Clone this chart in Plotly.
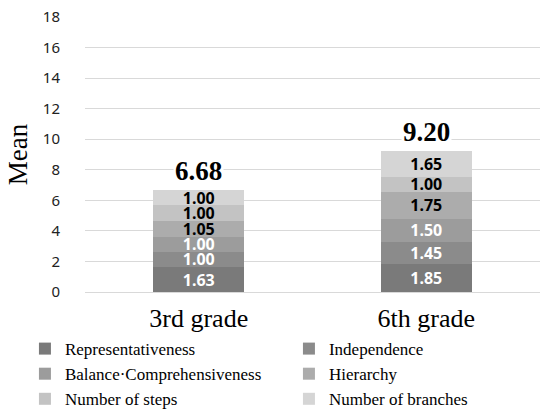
import plotly.graph_objects as go

grades = ["3rd grade", "6th grade"]
series_names = [
    "Representativeness",
    "Independence",
    "Balance·Comprehensiveness",
    "Hierarchy",
    "Number of steps",
    "Number of branches",
]
representativeness = [1.63, 1.85]
independence = [1.00, 1.45]
balance = [1.00, 1.50]
hierarchy = [1.05, 1.75]
steps = [1.00, 1.00]
branches = [1.00, 1.65]
totals = [6.68, 9.20]

series_values = [representativeness, independence, balance, hierarchy, steps, branches]
colors = ["#7a7a7a", "#8b8b8b", "#9c9c9c", "#acacac", "#c3c3c3", "#d5d5d5"]
label_colors = ["white", "white", "white", "black", "black", "black"]

fig = go.Figure()
for name, vals, col, tcol in zip(series_names, series_values, colors, label_colors):
    fig.add_trace(go.Bar(
        x=grades, y=vals, name=name,
        marker=dict(color=col, line=dict(width=0)),
        width=0.4,
        text=[f"{v:.2f}" for v in vals],
        textposition="inside",
        insidetextanchor="middle",
        constraintext="none",
        textfont=dict(family="Noto Sans", size=16, color=tcol, weight="bold"),
        hoverinfo="skip",
    ))

for g, t in zip(grades, totals):
    fig.add_annotation(
        x=g, y=t, text=f"<b>{t:.2f}</b>", showarrow=False,
        yanchor="bottom", yshift=2,
        font=dict(family="Liberation Serif", size=27, color="black"),
        bgcolor="white",
    )

fig.update_layout(
    width=542, height=409,
    margin=dict(l=85, r=2, t=17, b=117, autoexpand=False),
    barmode="stack",
    plot_bgcolor="white", paper_bgcolor="white",
    showlegend=True,
    legend=dict(
        orientation="h",
        x=-0.132, y=-0.142, xanchor="left", yanchor="top",
        entrywidth=219, entrywidthmode="pixels",
        bgcolor="rgba(0,0,0,0)",
        font=dict(family="Liberation Serif", size=17, color="black"),
        traceorder="normal",
        itemclick=False,
    ),
    xaxis=dict(
        tickfont=dict(family="Liberation Serif", size=26, color="black"),
        showgrid=False, showline=False, ticks="",
        ticklabelstandoff=8,
    ),
    yaxis=dict(
        range=[0, 18], dtick=2,
        showgrid=True, gridcolor="#d9d9d9", gridwidth=1,
        zeroline=True, zerolinecolor="#d9d9d9", zerolinewidth=1,
        showline=False, ticks="",
        tickfont=dict(family="Noto Sans", size=15, color="#222222"),
        ticklabelstandoff=24,
        title=dict(text="Mean", font=dict(family="Liberation Serif", size=27, color="black"), standoff=7),
    ),
)

fig.write_html("out.html")
